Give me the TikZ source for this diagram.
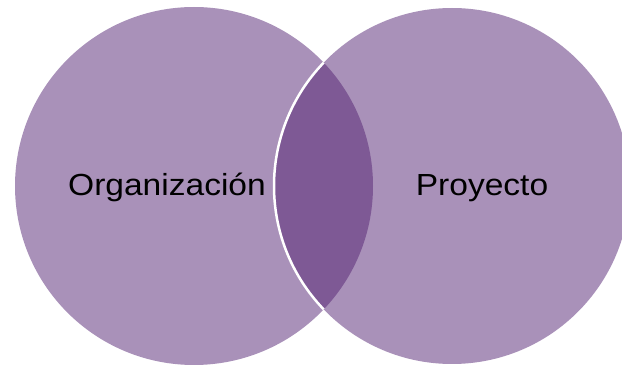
\documentclass[tikz,border=0pt]{standalone}
\usepackage{fontspec}
\setmainfont{Liberation Sans}
\definecolor{lightpurple}{RGB}{169,145,185}
\definecolor{darkpurple}{RGB}{126,89,149}
\tikzset{
  lbl/.style={anchor=base, inner sep=0pt, font=\fontsize{30.5}{36}\selectfont, text=black},
}
\begin{document}
\begin{tikzpicture}[x=1pt,y=-1pt]
\useasboundingbox (0,0) rectangle (622,366);
\coordinate (cl) at (194,186);
\coordinate (cr) at (452,186);
\fill[lightpurple] (cl) circle[radius=179];
\fill[lightpurple] (cr) circle[radius=178];
\begin{scope}
  \clip (cl) circle[radius=179];
  \fill[darkpurple] (cr) circle[radius=178];
  \draw[white, line width=2.5pt] (cr) circle[radius=178];
\end{scope}
\node[lbl] (org) at (167,196) {\scalebox{1.1}[1]{Organización}};
\node[lbl] (proy) at (482,196) {\scalebox{1.1}[1]{Proyecto}};
\end{tikzpicture}
\end{document}
